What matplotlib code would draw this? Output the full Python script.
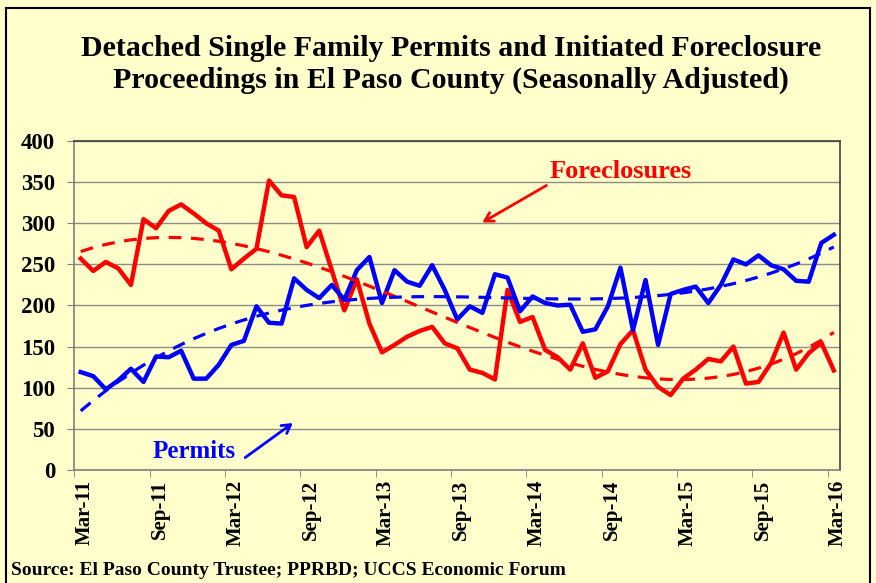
import numpy as np
import matplotlib
matplotlib.use("Agg")
import matplotlib.pyplot as plt
import matplotlib.transforms as mtransforms
from matplotlib.patches import Rectangle

plt.rcParams['font.family'] = ['Liberation Serif', 'DejaVu Serif']
plt.rcParams['font.weight'] = 'bold'

# monthly, Mar-11 .. Mar-16
months = ["Mar-11", "Sep-11", "Mar-12", "Sep-12", "Mar-13", "Sep-13",
          "Mar-14", "Sep-14", "Mar-15", "Sep-15", "Mar-16"]
permits = [119, 114, 98, 109, 123, 107, 138, 137, 145, 111,
           111, 128, 152, 157, 199, 179, 178, 233, 219, 209,
           225, 207, 243, 259, 203, 243, 229, 224, 249, 219,
           183, 199, 191, 238, 234, 193, 211, 203, 200, 201,
           168, 171, 199, 246, 170, 231, 152, 214, 219, 223,
           203, 225, 256, 250, 261, 249, 244, 230, 229, 276,
           286]
foreclosures = [257, 242, 253, 245, 225, 305, 294, 315, 323, 312,
                300, 291, 244, 257, 269, 352, 334, 332, 271, 291,
                243, 194, 232, 178, 143, 152, 162, 169, 174, 154,
                148, 122, 118, 110, 219, 180, 186, 146, 137, 122,
                154, 112, 120, 153, 170, 122, 101, 91, 111, 122,
                135, 132, 150, 105, 107, 130, 167, 122, 142, 155,
                121]

bg = '#FFFFCC'
x = np.arange(len(permits))

fig = plt.figure(figsize=(8.76, 5.83), dpi=100, facecolor=bg)
ax = fig.add_axes([0.085, 0.194, 0.874, 0.564], facecolor=bg)

# polynomial trendlines, as in the original spreadsheet chart
p_fit = np.polyval(np.polyfit(x, permits, 3), x)
f_fit = np.polyval(np.polyfit(x, foreclosures, 3), x)

ax.plot(x, foreclosures, color='#FF0000', lw=3.2, zorder=3)
ax.plot(x, permits, color='#0000FF', lw=3.2, zorder=3)
ax.plot(x, f_fit, color='#FF0000', lw=2.3, ls=(0, (4, 3)), zorder=4)
ax.plot(x, p_fit, color='#0000FF', lw=2.3, ls=(0, (4, 3)), zorder=4)

ax.set_xlim(-0.5, 60.5)
ax.set_ylim(0, 400)
ax.set_yticks(range(0, 401, 50))
ax.set_xticks(np.arange(0, 61, 6))
ax.set_xticklabels(months, rotation=90, fontsize=15, fontweight='bold')
ax.set_xticks(np.arange(-0.5, 60, 6), minor=True)
ax.tick_params(axis='x', which='major', length=0, pad=7)
ax.tick_params(axis='x', which='minor', length=5, color='#808080')
ax.tick_params(axis='y', labelsize=16.5, length=5, color='#808080', pad=9)
for lab in ax.get_yticklabels():
    lab.set_fontweight('bold')
shift = mtransforms.ScaledTranslation(4 / 100, 0, fig.dpi_scale_trans)
for lab in ax.get_xticklabels():
    lab.set_transform(lab.get_transform() + shift)
ax.grid(axis='y', color='#8c8c8c', lw=1)
ax.set_axisbelow(True)
for s in ax.spines.values():
    s.set_color('#808080')
    s.set_linewidth(1.2)
ax.spines['top'].set_color('#404040')
ax.spines['right'].set_color('#404040')

fig.text(0.515, 0.94, "Detached Single Family Permits and Initiated Foreclosure\n"
         "Proceedings in El Paso County (Seasonally Adjusted)",
         ha='center', va='top', fontsize=21.5, fontweight='bold', linespacing=1.2)

ax.text(43.0, 363, "Foreclosures", color='#FF0000', fontsize=19,
        fontweight='bold', ha='center', va='center')
ax.annotate("", xy=(32.0, 301), xytext=(37.1, 346),
            arrowprops=dict(arrowstyle='->, head_length=0.6, head_width=0.35',
                            color='#FF0000', lw=2, shrinkA=0, shrinkB=0))
ax.text(9.0, 22, "Permits", color='#0000FF', fontsize=18,
        fontweight='bold', ha='center', va='center')
ax.annotate("", xy=(16.9, 57), xytext=(13.1, 15),
            arrowprops=dict(arrowstyle='->, head_length=0.6, head_width=0.35',
                            color='#0000FF', lw=2, shrinkA=0, shrinkB=0))

fig.text(0.012, 0.022, "Source: El Paso County Trustee; PPRBD; UCCS Economic Forum",
         fontsize=14, fontweight='bold', ha='left', va='center')

fig.patches.append(Rectangle((0.007, -0.01), 0.986, 0.996, transform=fig.transFigure,
                             fill=False, edgecolor='black', lw=1.5))

fig.savefig("out.png", dpi=100, facecolor=bg)
